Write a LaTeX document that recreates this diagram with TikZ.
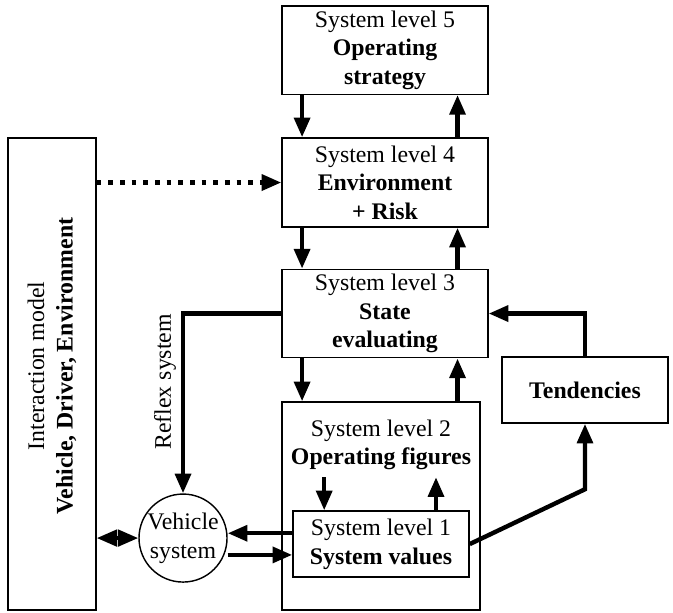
\documentclass[tikz,border=0pt]{standalone}
\usepackage{fontspec}
\setmainfont{Liberation Serif}
\usetikzlibrary{arrows.meta,positioning,calc}
\tikzset{
  levelbox/.style={draw, line width=0.6pt, align=center, minimum width=3.04cm,
                   minimum height=1.3cm, inner sep=2pt},
  arr/.style={-{Triangle[length=2.9mm, width=2.3mm]}, line width=1.85pt},
  dotarr/.style={arr, dash pattern=on 2pt off 2.9pt},
  dblarr/.style={{Triangle[length=3mm, width=2.4mm]}-{Triangle[length=3mm, width=2.4mm]},
                 line width=1.7pt}}

\begin{document}
\begin{tikzpicture}
    \useasboundingbox (0,0) rectangle (9.94,9.04);
    % the level stack
    \node[levelbox] (lfive) at (5.686,8.30)
      {System level 5\\\textbf{Operating}\\\textbf{strategy}};
    \node[levelbox, minimum height=1.315cm] (lfour) at (5.686,6.344)
      {System level 4\\\textbf{Environment}\\\textbf{+ Risk}};
    \node[levelbox, minimum height=1.285cm] (lthree) at (5.686,4.409)
      {System level 3\\\textbf{State}\\\textbf{evaluating}};
    \node[levelbox, minimum width=2.925cm, minimum height=3.072cm] (ltwo) at (5.627,1.566) {};
    \node[anchor=north, align=center] (ltwotext) at ($(ltwo.north)+(0,-0.15)$)
      {System level 2\\\textbf{Operating figures}};
    \node[levelbox, minimum width=2.6cm, minimum height=0.975cm] (lone) at (5.627,1.004)
      {System level 1\\\textbf{System values}};
    \node[levelbox, minimum width=2.452cm, minimum height=0.975cm] (tend) at (8.64,3.279)
      {\textbf{Tendencies}};
    % the interaction model
    \node[levelbox, minimum width=1.3cm, minimum height=6.97cm] (imodel) at (0.768,3.515) {};
    \node[rotate=90, align=center] (imtext) at ($(imodel.center)+(0,0.12)$)
      {Interaction model\\\textbf{Vehicle, Driver, Environment}};
    \node[draw, circle, line width=0.6pt, minimum size=1.3cm, inner sep=0pt, align=center]
      (vsys) at (2.703,1.093) {Vehicle\\system};
    % arrows between the levels
    \foreach \up/\dn in {lfive/lfour, lfour/lthree, lthree/ltwo} {
      \coordinate (dl) at ($(\up.south west)!0.1!(\up.south east)$);
      \coordinate (ur) at ($(\up.south west)!0.85!(\up.south east)$);
      \draw[arr] (dl) -- (dl |- \dn.north);
      \draw[arr] (ur |- \dn.north) -- (ur);
    }
    \coordinate (odn) at ($(lone.north west)!0.18!(lone.north east)$);
    \coordinate (oup) at ($(lone.north west)!0.81!(lone.north east)$);
    \draw[arr] ($(odn)+(0,0.49)$) -- (odn);
    \draw[arr] (oup) -- ($(oup)+(0,0.49)$);
    % vehicle system
    \coordinate (tovs) at ($(lone.west)+(0,0.16)$);
    \coordinate (fromvs) at ($(lone.west)+(0,-0.16)$);
    \draw[arr] (tovs) -- (tovs -| vsys.east);
    \draw[arr] (fromvs -| vsys.east) -- (fromvs);
    \draw[dblarr] (imodel.east |- vsys.west) -- (vsys.west);
    \draw[dotarr] (imodel.east |- lfour.west) -- (lfour.west);
    \draw[arr] (lthree.west) -| node[pos=0.69, rotate=90, anchor=south, inner sep=2pt] {Reflex system} (vsys.north);
    % tendencies
    \coordinate (knee) at ($(lone.east -| tend.south)+(0,0.81)$);
    \draw[arr] (lone.east) -- (knee) -- (tend.south);
    \draw[arr] (tend.north) |- (lthree.east);
\end{tikzpicture}
\end{document}
